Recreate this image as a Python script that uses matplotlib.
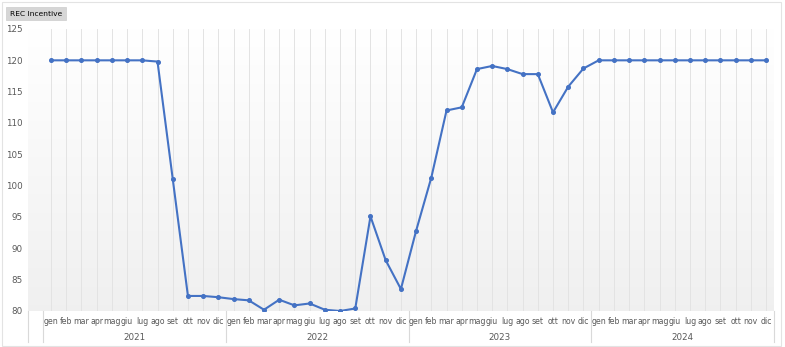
import matplotlib
matplotlib.use("Agg")
import matplotlib.pyplot as plt
import numpy as np
from matplotlib.patches import Rectangle
from matplotlib.lines import Line2D
from matplotlib import font_manager

months = ["gen", "feb", "mar", "apr", "mag", "giu", "lug", "ago", "set", "ott", "nov", "dic"]
years = ["2021", "2022", "2023", "2024"]
values_2021 = [120, 120, 120, 120, 120, 120, 120, 119.8, 101.1, 82.4, 82.4, 82.2]
values_2022 = [81.9, 81.7, 80.2, 81.8, 80.9, 81.2, 80.2, 80.0, 80.4, 95.1, 88.1, 83.5]
values_2023 = [92.8, 101.3, 112.0, 112.5, 118.6, 119.1, 118.6, 117.8, 117.8, 111.7, 115.8, 118.7]
values_2024 = [120, 120, 120, 120, 120, 120, 120, 120, 120, 120, 120, 120]
title = "REC Incentive"
y_ticks = [80, 85, 90, 95, 100, 105, 110, 115, 120, 125]

names = {f.name for f in font_manager.fontManager.ttflist}
narrow = "Liberation Sans Narrow" if "Liberation Sans Narrow" in names else "DejaVu Sans"
mfs = 6.8 if narrow != "DejaVu Sans" else 5.6

values = values_2021 + values_2022 + values_2023 + values_2024
n = len(values)
x = np.arange(1, n + 1)  # category 0 is blank

W, H = 785, 347
fig = plt.figure(figsize=(W / 100, H / 100), dpi=100)
fig.patch.set_facecolor("white")

left_px, right_px = 28.2, 773.6
top_px, bot_px = 29, 311
ax = fig.add_axes([left_px / W, 1 - bot_px / H, (right_px - left_px) / W, (bot_px - top_px) / H])
ax.set_xlim(-0.5, n + 0.5)
ax.set_ylim(80, 125)

# gradient background
grad = np.linspace(1.0, 0.0, 256).reshape(-1, 1)
c_top = np.array([1.0, 1.0, 1.0])
c_bot = np.array([0.94, 0.94, 0.94])
img = c_bot[None, None, :] * (1 - grad[:, :, None]) + c_top[None, None, :] * grad[:, :, None]
ax.imshow(img, extent=[0, 1, 0, 1], transform=ax.transAxes, aspect="auto", zorder=0)

for xi in x:
    ax.axvline(xi, color="#e3e3e3", lw=0.7, zorder=1)

ax.plot(x, values, color="#4472C4", lw=1.5, marker="o", ms=2.6, zorder=3)

for s in ax.spines.values():
    s.set_visible(False)
ax.set_xticks([])
ax.set_yticks(y_ticks)
ax.tick_params(axis="y", length=0, labelsize=6.3, labelcolor="#595959", pad=4)

# category labels
trans = ax.get_xaxis_transform()
month_y = -(321 - bot_px) / (bot_px - top_px)
year_y = -(337 - bot_px) / (bot_px - top_px)
for i, v in enumerate(values):
    ax.text(x[i], month_y, months[i % 12], transform=trans, ha="center", va="center",
            fontsize=mfs, family=narrow, color="#595959", clip_on=False)
for j, yr in enumerate(years):
    ax.text(12 * j + 6.5, year_y, yr, transform=trans, ha="center", va="center",
            fontsize=6.3, color="#595959", clip_on=False)

sep_bottom = -(342 - bot_px) / (bot_px - top_px)
for sx in [-0.5, 0.5, 12.5, 24.5, 36.5, 48.5]:
    ax.add_line(Line2D([sx, sx], [0, sep_bottom], transform=trans, color="#d9d9d9",
                       lw=0.8, clip_on=False))

# title box
fig.text(9.5 / W, 1 - 13.5 / H, title, ha="left", va="center", fontsize=5.4, color="#000000",
         bbox=dict(boxstyle="square,pad=0.5", facecolor="#d6d6d6", edgecolor="#cccccc", lw=0.5))

# figure border
fig.add_artist(Rectangle((1.5 / W, 1.5 / H), (781 - 1.5) / W, (H - 3) / H,
                         transform=fig.transFigure, fill=False, edgecolor="#e3e3e3", lw=0.8))

fig.savefig("out.png", dpi=100)
